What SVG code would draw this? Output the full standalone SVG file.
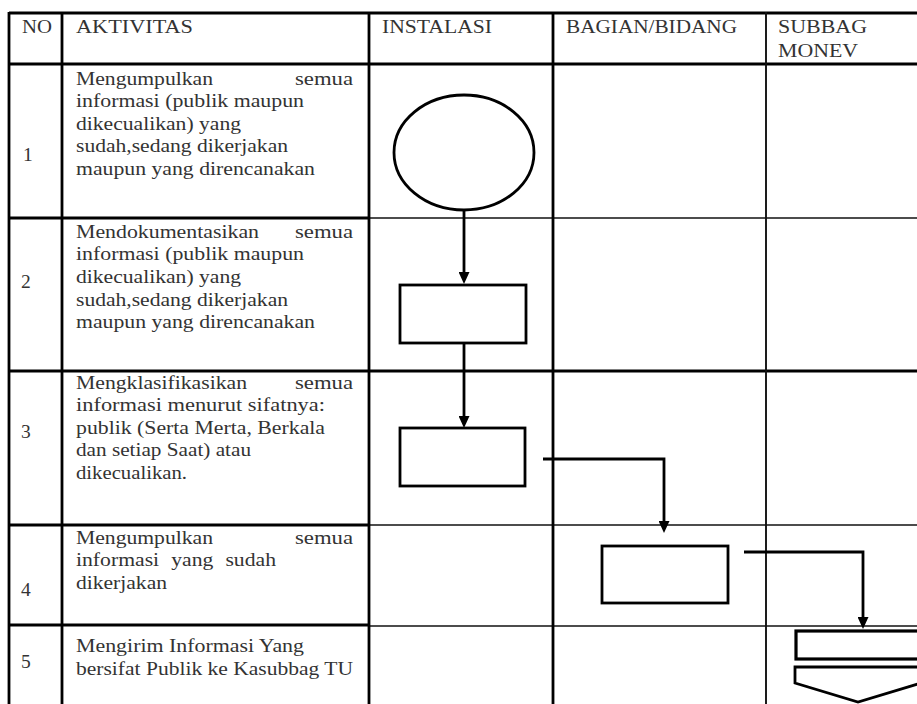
<svg xmlns="http://www.w3.org/2000/svg" width="917" height="704" viewBox="0 0 917 704">
<defs>
<style>
.t{font-family:"Liberation Serif","Times New Roman",serif;font-size:19.5px;fill:#333}
.h{font-family:"Liberation Serif","Times New Roman",serif;font-size:19.5px;fill:#333}
.g{stroke:#000;stroke-width:2.8;fill:none}
.gt{stroke:#111;stroke-width:1.6;fill:none}
.s{stroke:#000;stroke-width:2.8;fill:#fff}
.c{stroke:#000;stroke-width:2.8;fill:none}
</style>
<marker id="ah" viewBox="0 0 12 11" refX="8" refY="5.5" markerWidth="12" markerHeight="11" orient="auto" markerUnits="userSpaceOnUse">
<path d="M0,0 L12,5.5 L0,11 z" fill="#000"/>
</marker>
</defs>
<rect width="917" height="704" fill="#fff"/>

<g id="grid">
<line class="g" x1="9" y1="13" x2="917" y2="13"/>
<line class="g" x1="9" y1="64" x2="917" y2="64"/>
<line class="g" x1="9" y1="218" x2="369" y2="218"/>
<line class="gt" x1="369" y1="218" x2="917" y2="218"/>
<line class="g" x1="9" y1="371" x2="917" y2="371"/>
<line class="g" x1="9" y1="525" x2="369" y2="525"/>
<line class="gt" x1="369" y1="525" x2="917" y2="525"/>
<line class="g" x1="9" y1="625" x2="369" y2="625"/>
<line class="gt" x1="369" y1="626" x2="917" y2="626"/>
<line class="g" x1="9" y1="12" x2="9" y2="704"/>
<line class="g" x1="62" y1="12" x2="62" y2="704"/>
<line class="g" x1="369" y1="12" x2="369" y2="704"/>
<line class="g" x1="553" y1="12" x2="553" y2="704"/>
<line class="gt" x1="766" y1="12" x2="766" y2="704" style="stroke-width:1.9"/>
</g>

<g id="header">
<text class="h" x="22" y="33" textLength="30" lengthAdjust="spacingAndGlyphs">NO</text>
<text class="h" x="76" y="33" textLength="117" lengthAdjust="spacingAndGlyphs">AKTIVITAS</text>
<text class="h" x="382" y="33" textLength="110" lengthAdjust="spacingAndGlyphs">INSTALASI</text>
<text class="h" x="566" y="33" textLength="171" lengthAdjust="spacingAndGlyphs">BAGIAN/BIDANG</text>
<text class="h" x="778" y="33" textLength="89" lengthAdjust="spacingAndGlyphs">SUBBAG</text>
<text class="h" x="778" y="57" textLength="80" lengthAdjust="spacingAndGlyphs">MONEV</text>
</g>

<g id="row1">
<text class="t" x="23" y="161">1</text>
<text class="t" x="76" y="85" textLength="137" lengthAdjust="spacingAndGlyphs">Mengumpulkan</text>
<text class="t" x="295" y="85" textLength="58" lengthAdjust="spacingAndGlyphs">semua</text>
<text class="t" x="76" y="107" textLength="228" lengthAdjust="spacingAndGlyphs">informasi (publik maupun</text>
<text class="t" x="76" y="130" textLength="165" lengthAdjust="spacingAndGlyphs">dikecualikan) yang</text>
<text class="t" x="76" y="152" textLength="212" lengthAdjust="spacingAndGlyphs">sudah,sedang dikerjakan</text>
<text class="t" x="76" y="175" textLength="239" lengthAdjust="spacingAndGlyphs">maupun yang direncanakan</text>
</g>

<g id="row2">
<text class="t" x="21" y="288">2</text>
<text class="t" x="76" y="238" textLength="183" lengthAdjust="spacingAndGlyphs">Mendokumentasikan</text>
<text class="t" x="295" y="238" textLength="58" lengthAdjust="spacingAndGlyphs">semua</text>
<text class="t" x="76" y="260" textLength="228" lengthAdjust="spacingAndGlyphs">informasi (publik maupun</text>
<text class="t" x="76" y="283" textLength="165" lengthAdjust="spacingAndGlyphs">dikecualikan) yang</text>
<text class="t" x="76" y="306" textLength="212" lengthAdjust="spacingAndGlyphs">sudah,sedang dikerjakan</text>
<text class="t" x="76" y="328" textLength="239" lengthAdjust="spacingAndGlyphs">maupun yang direncanakan</text>
</g>

<g id="row3">
<text class="t" x="21" y="438">3</text>
<text class="t" x="76" y="389" textLength="171" lengthAdjust="spacingAndGlyphs">Mengklasifikasikan</text>
<text class="t" x="295" y="389" textLength="58" lengthAdjust="spacingAndGlyphs">semua</text>
<text class="t" x="76" y="411" textLength="249" lengthAdjust="spacingAndGlyphs">informasi menurut sifatnya:</text>
<text class="t" x="76" y="434" textLength="249" lengthAdjust="spacingAndGlyphs">publik (Serta Merta, Berkala</text>
<text class="t" x="76" y="456" textLength="175" lengthAdjust="spacingAndGlyphs">dan setiap Saat) atau</text>
<text class="t" x="76" y="479" textLength="111" lengthAdjust="spacingAndGlyphs">dikecualikan.</text>
</g>

<g id="row4">
<text class="t" x="21" y="596">4</text>
<text class="t" x="76" y="544" textLength="137" lengthAdjust="spacingAndGlyphs">Mengumpulkan</text>
<text class="t" x="295" y="544" textLength="58" lengthAdjust="spacingAndGlyphs">semua</text>
<text class="t" x="76" y="566" textLength="200" lengthAdjust="spacingAndGlyphs" word-spacing="6">informasi yang sudah</text>
<text class="t" x="76" y="589" textLength="91" lengthAdjust="spacingAndGlyphs">dikerjakan</text>
</g>

<g id="row5">
<text class="t" x="21" y="668">5</text>
<text class="t" x="76" y="652" textLength="228" lengthAdjust="spacingAndGlyphs">Mengirim Informasi Yang</text>
<text class="t" x="76" y="675" textLength="277" lengthAdjust="spacingAndGlyphs">bersifat Publik ke Kasubbag TU</text>
</g>

<g id="connectors">
<path class="c" d="M464,211 V280" marker-end="url(#ah)"/>
<path class="c" d="M464,344 V424" marker-end="url(#ah)"/>
<path class="c" d="M543,459 H664 V529" marker-end="url(#ah)"/>
<path class="c" d="M744,552 H863 V625" marker-end="url(#ah)"/>
</g>

<g id="node-start">
<ellipse class="s" cx="464" cy="152.5" rx="70" ry="57.5"/>
</g>
<g id="node-doc">
<rect class="s" x="400" y="285" width="126" height="58"/>
</g>
<g id="node-classify">
<rect class="s" x="400" y="428" width="125" height="58"/>
</g>
<g id="node-collect">
<rect class="s" x="602" y="546" width="126" height="57"/>
</g>
<g id="node-send">
<rect class="s" x="796" y="631" width="130" height="28" style="stroke-width:3.2"/>
</g>
<g id="node-offpage">
<path class="s" d="M795,667 H921 V683 L858,702 L795,683 Z"/>
</g>
</svg>
